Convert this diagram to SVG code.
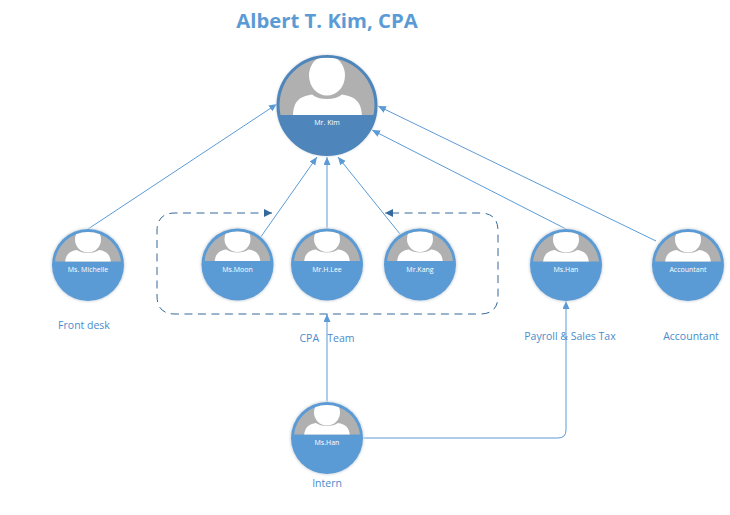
<svg xmlns="http://www.w3.org/2000/svg" width="730" height="515" viewBox="0 0 730 515">
<style>
text{font-family:"Open Sans","Noto Sans","Liberation Sans",sans-serif;text-anchor:middle}
.title{font-size:20.3px;font-weight:700;fill:#5b9bd5}
.lab{font-size:10.5px;fill:#4a8ccb}
.name{font-size:7px;fill:#fff}
.conn{fill:none;stroke:#5b9bd5;stroke-width:1}
.dash{fill:none;stroke:#34699c;stroke-width:1;stroke-dasharray:8 5.5;marker-start:url(#da);marker-end:url(#da)}
</style>
<defs>
<marker id="a" markerUnits="userSpaceOnUse" markerWidth="9" markerHeight="8" refX="8" refY="3.500" orient="auto"><path d="M0 0L8 3.500L0 7Z" fill="#5b9bd5"/></marker>
<marker id="da" markerUnits="userSpaceOnUse" markerWidth="9" markerHeight="8" refX="8" refY="4" orient="auto-start-reverse"><path d="M0 0L8 4L0 8Z" fill="#34699c"/></marker>
<filter id="g" x="-20%" y="-20%" width="140%" height="140%"><feGaussianBlur stdDeviation="1"/></filter>
<filter id="s" x="-10%" y="-10%" width="120%" height="120%"><feGaussianBlur stdDeviation="0.400"/></filter>
<clipPath id="cs"><path d="M-33 -3.500A33.200 33.200 0 0 1 33 -3.500Z"/></clipPath>
<clipPath id="cb"><path d="M-46.500 9.500A47.500 47.500 0 1 1 46.500 9.500Z"/></clipPath>
<g id="small">
<circle r="37" fill="#d8dde2" filter="url(#g)"/>
<circle r="36" fill="#5b9bd5"/>
<g clip-path="url(#cs)">
<rect x="-36" y="-36" width="72" height="33" fill="#b0b0b0"/>
<g filter="url(#s)">
<ellipse cx="0" cy="-25.500" rx="13" ry="13" fill="#fff"/>
<path d="M-23 0C-23 -11 -18 -14 -11 -15C-6 -11 6 -11 11 -15C18 -14 23 -11 23 0Z" fill="#fff"/>
</g>
</g>
</g>
<g id="big">
<circle r="51" fill="#d8dde2" filter="url(#g)"/>
<circle r="49" fill="#4e86bb" stroke="#4e86bb" stroke-width="3"/>
<g clip-path="url(#cb)">
<rect x="-50" y="-50" width="100" height="59.500" fill="#b0b0b0"/>
<g filter="url(#s)">
<ellipse cx="0" cy="-30" rx="18" ry="20" fill="#fff"/>
<path d="M-34 12C-34 -4 -28 -9 -15 -11C-8 -5 8 -5 15 -11C28 -9 35 -4 35 12Z" fill="#fff"/>
</g>
</g>
</g>
</defs>
<rect width="730" height="515" fill="#fff"/>
<text class="title" x="327" y="27.500">Albert T. Kim, CPA</text>
<g id="connectors">
<path class="conn" marker-end="url(#a)" d="M88 229L277 104"/>
<path class="conn" marker-end="url(#a)" d="M260 238L317 157"/>
<path class="conn" marker-end="url(#a)" d="M327 228V157"/>
<path class="conn" marker-end="url(#a)" d="M400 234L338 157"/>
<path class="conn" marker-end="url(#a)" d="M566 229L372 130"/>
<path class="conn" marker-end="url(#a)" d="M656 241L378 106"/>
<path class="conn" marker-end="url(#a)" d="M327 402V314"/>
<path class="conn" marker-end="url(#a)" d="M363 438H558Q566 438 566 430V301"/>
<path class="dash" d="M272 213H175Q157 213 157 231V296Q157 314 175 314H480Q498 314 498 296V231Q498 213 480 213H385"/>
</g>
<g id="n-kim"><use href="#big" x="327" y="105.500"/><text class="name" x="327" y="125">Mr. Kim</text></g>
<g id="n-michelle"><use href="#small" x="88" y="265"/><text class="name" x="88" y="272">Ms. Michelle</text></g>
<g id="n-moon"><use href="#small" x="237.500" y="264.500"/><text class="name" x="237.500" y="272">Ms.Moon</text></g>
<g id="n-lee"><use href="#small" x="327" y="264.500"/><text class="name" x="327" y="272">Mr.H.Lee</text></g>
<g id="n-kang"><use href="#small" x="420" y="264.500"/><text class="name" x="420" y="272">Mr.Kang</text></g>
<g id="n-han"><use href="#small" x="566" y="265"/><text class="name" x="566" y="272">Ms.Han</text></g>
<g id="n-accountant"><use href="#small" x="688" y="265"/><text class="name" x="688" y="272">Accountant</text></g>
<g id="n-intern"><use href="#small" x="327" y="438"/><text class="name" x="327" y="445">Ms.Han</text></g>
<g id="labels">
<text class="lab" x="84" y="329">Front desk</text>
<text class="lab" x="327" y="342" xml:space="preserve">CPA   Team</text>
<text class="lab" x="570" y="340">Payroll &amp; Sales Tax</text>
<text class="lab" x="691" y="340">Accountant</text>
<text class="lab" x="327" y="487">Intern</text>
</g>
</svg>
